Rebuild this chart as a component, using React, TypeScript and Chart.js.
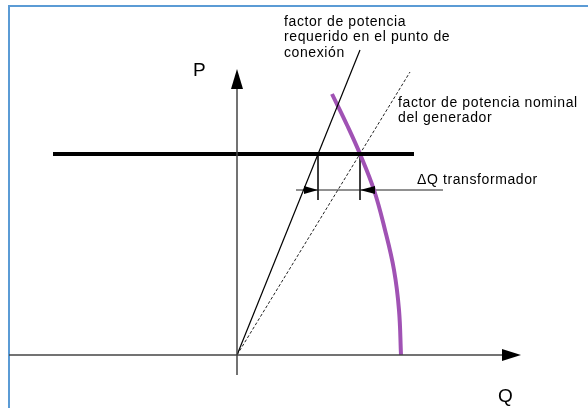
import React, { useEffect, useRef } from "react";
import { Chart, registerables } from "chart.js";

Chart.register(...registerables);

// Diagram coordinates: origin at the P-Q axes crossing (Q right, P up)
const qAxis = [{ x: -228, y: 0 }, { x: 266, y: 0 }];
const pAxis = [{ x: 0, y: -20 }, { x: 0, y: 268 }];
const pLimit = [{ x: -184, y: 201 }, { x: 177, y: 201 }];
const requiredPF = [{ x: 0, y: 0 }, { x: 123, y: 305 }];
const nominalPF = [{ x: 0, y: 0 }, { x: 173, y: 283 }];
const capabilityCurve = [
  { x: 95, y: 261 },
  { x: 110, y: 230 },
  { x: 123, y: 201 },
  { x: 137, y: 165 },
  { x: 148, y: 125 },
  { x: 157, y: 85 },
  { x: 162, y: 45 },
  { x: 164, y: 0 },
];
const deltaQLine = [{ x: 59, y: 165 }, { x: 206, y: 165 }];
const tickLeft = [{ x: 81, y: 201 }, { x: 81, y: 155 }];
const tickRight = [{ x: 123, y: 201 }, { x: 123, y: 155 }];

const labelRequired = ["factor de potencia", "requerido en el punto de", "conexión"];
const labelNominal = ["factor de potencia nominal", "del generador"];
const labelDeltaQ = "ΔQ transformador";

export default function App() {
  const ref = useRef<HTMLCanvasElement | null>(null);

  useEffect(() => {
    if (!ref.current) return;
    const line = (data: any[], color: string, width: number, dash: number[] = [], tension = 0) => ({
      data,
      showLine: true,
      borderColor: color,
      backgroundColor: color,
      borderWidth: width,
      borderDash: dash,
      pointRadius: 0,
      tension,
      fill: false,
    });

    const overlay = {
      id: "overlay",
      afterDatasetsDraw(chart: any) {
        const ctx = chart.ctx;
        const xs = chart.scales.x;
        const ys = chart.scales.y;
        const px = (v: number) => xs.getPixelForValue(v);
        const py = (v: number) => ys.getPixelForValue(v);
        const tri = (pts: number[][], color: string) => {
          ctx.save();
          ctx.fillStyle = color;
          ctx.beginPath();
          ctx.moveTo(pts[0][0], pts[0][1]);
          ctx.lineTo(pts[1][0], pts[1][1]);
          ctx.lineTo(pts[2][0], pts[2][1]);
          ctx.closePath();
          ctx.fill();
          ctx.restore();
        };
        // axis arrows
        tri([[px(265), py(0) - 6], [px(284), py(0)], [px(265), py(0) + 6]], "#000");
        tri([[px(0) - 6, py(266)], [px(0), py(286)], [px(0) + 6, py(266)]], "#000");
        // delta Q arrows
        tri([[px(67), py(165) - 4], [px(81), py(165)], [px(67), py(165) + 4]], "#000");
        tri([[px(138), py(165) - 4], [px(123), py(165)], [px(138), py(165) + 4]], "#000");

        ctx.save();
        ctx.fillStyle = "#000";
        ctx.textBaseline = "middle";
        ctx.textAlign = "left";
        ctx.font = "19px 'Liberation Sans', Arial, sans-serif";
        ctx.fillText("P", px(-44), py(284));
        ctx.fillText("Q", px(261), py(-42));
        ctx.font = "14px 'Liberation Sans', Arial, sans-serif";
        try { (ctx as any).letterSpacing = "0.6px"; } catch (e) {}
        labelRequired.forEach((t, i) => ctx.fillText(t, px(47), py(333) + i * 15.5));
        labelNominal.forEach((t, i) => ctx.fillText(t, px(161), py(252) + i * 15.5));
        ctx.fillText(labelDeltaQ, px(180), py(175));
        ctx.restore();
      },
    };

    const chart = new Chart(ref.current, {
      type: "scatter",
      data: {
        datasets: [
          line(qAxis, "#444", 1.5),
          line(pAxis, "#444", 1.5),
          line(pLimit, "#000", 4),
          line(requiredPF, "#000", 1.2),
          line(nominalPF, "#222", 1, [3, 2]),
          line(capabilityCurve, "#a052b4", 4, [], 0.4),
          line(deltaQLine, "#222", 1),
          line(tickLeft, "#222", 1),
          line(tickRight, "#222", 1),
        ] as any,
      },
      options: {
        animation: false,
        responsive: false,
        maintainAspectRatio: false,
        layout: { padding: 0 },
        plugins: { legend: { display: false }, tooltip: { enabled: false } },
        scales: {
          x: { type: "linear", min: -237, max: 351, display: false },
          y: { type: "linear", min: -53, max: 355, display: false },
        },
      },
      plugins: [overlay],
    });
    return () => chart.destroy();
  }, []);

  return (
    <div style={{ position: "absolute", left: 0, top: 0, width: 588, height: 408, background: "#fff", overflow: "hidden" }}>
      <div
        style={{
          position: "absolute",
          left: 8,
          top: 5,
          width: 600,
          height: 420,
          borderLeft: "2px solid #5b9bd5",
          borderTop: "2px solid #5b9bd5",
        }}
      />
      <canvas ref={ref} width={588} height={408} style={{ position: "absolute", left: 0, top: 0 }} />
    </div>
  );
}
